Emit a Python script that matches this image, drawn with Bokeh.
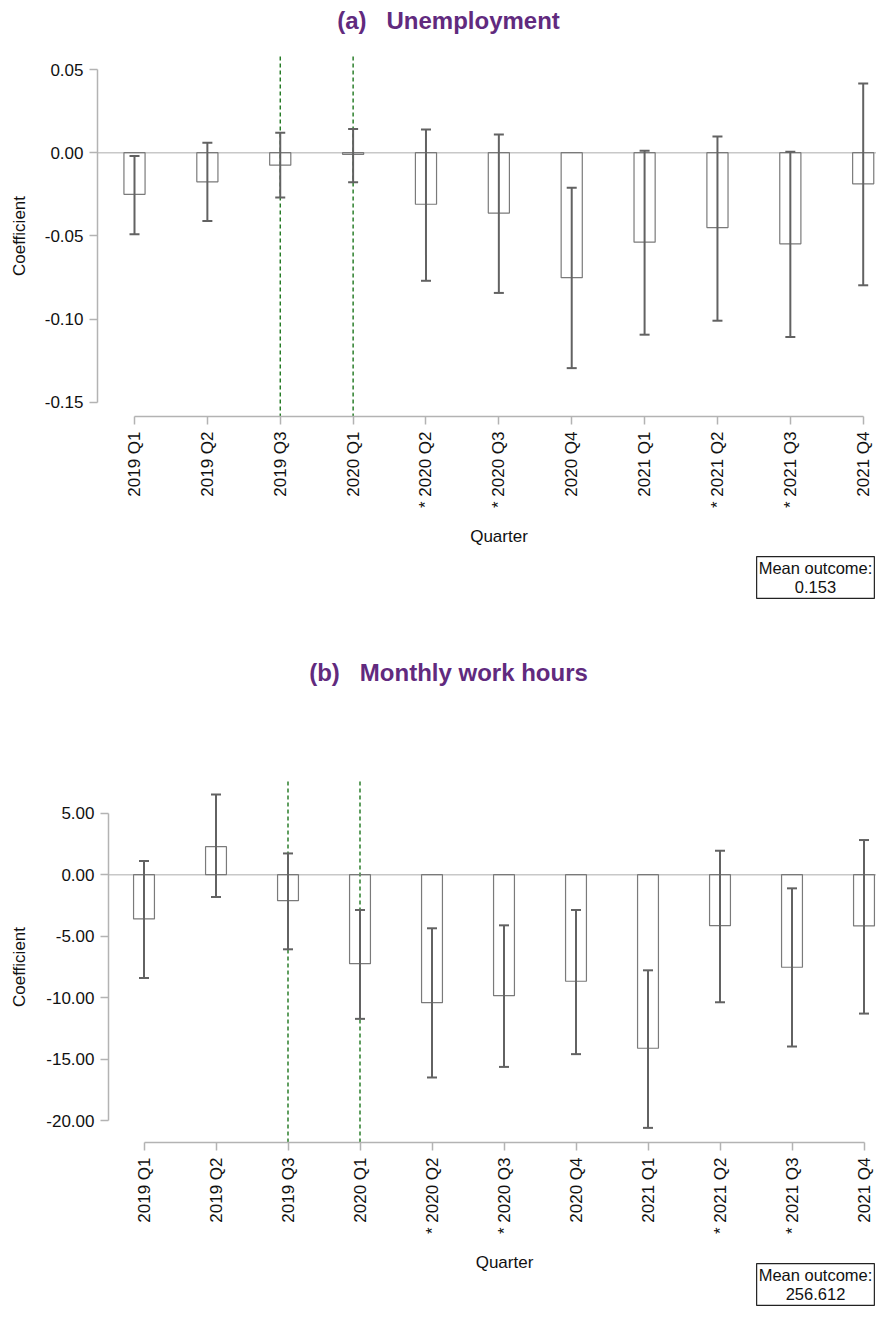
import math
from bokeh.plotting import figure
from bokeh.models import (ColumnDataSource, Range1d, FixedTicker, Whisker,
                          TeeHead, Label)
from bokeh.layouts import column
from bokeh.embed import file_html
from bokeh.resources import INLINE

# ---------------- data ----------------
quarters = ["2019 Q1", "2019 Q2", "2019 Q3", "2020 Q1", "2020 Q2", "2020 Q3",
            "2020 Q4", "2021 Q1", "2021 Q2", "2021 Q3", "2021 Q4"]
significant = [False, False, False, False, True, True, False, False, True, True, False]
policy_quarters = ["2019 Q3", "2020 Q1"]

unemp_coef = [-0.025, -0.0175, -0.0075, -0.001, -0.031, -0.0363, -0.0751,
              -0.0538, -0.045, -0.0548, -0.0187]
unemp_lo = [-0.049, -0.041, -0.027, -0.0177, -0.077, -0.0843, -0.1295,
            -0.1094, -0.101, -0.1108, -0.0797]
unemp_hi = [-0.002, 0.006, 0.012, 0.0143, 0.014, 0.011, -0.021,
            0.0012, 0.0098, 0.0006, 0.0416]
unemp_yticks = [-0.15, -0.10, -0.05, 0.0, 0.05]
unemp_ytick_labels = ["-0.15", "-0.10", "-0.05", "0.00", "0.05"]
unemp_mean = "0.153"

hours_coef = [-3.6, 2.28, -2.11, -7.24, -10.41, -9.84, -8.67, -14.12,
              -4.15, -7.53, -4.17]
hours_lo = [-8.40, -1.82, -6.07, -11.73, -16.5, -15.64, -14.6, -20.6,
            -10.38, -13.98, -11.3]
hours_hi = [1.11, 6.53, 1.73, -2.87, -4.36, -4.12, -2.87, -7.78,
            1.95, -1.11, 2.82]
hours_yticks = [-20, -15, -10, -5, 0, 5]
hours_ytick_labels = ["-20.00", "-15.00", "-10.00", "-5.00", "0.00", "5.00"]
hours_mean = "256.612"

tick_labels = [("* " if s else "") + q for q, s in zip(quarters, significant)]

# ---------------- style ----------------
FONT = "Liberation Sans"
TITLE_COLOR = "#612A7E"
AXIS_COLOR = "#b3b3b3"
BAR_LINE = "#7a7a7a"
CI_COLOR = "#626262"
ZERO_COLOR = "#c8c8c8"
VLINE_COLOR = "#0b6b0b"
W = 876
GAP = " \u00a0 "   # three-space gap that survives SVG whitespace collapsing


def make_panel(title, coef, lo, hi, yticks, ylabels, mean_text, g):
    # g holds the page-pixel calibration of this panel
    def dx(px):
        return (px - g["x0"]) / g["dx"]

    def dy(py):
        return (g["y0"] - py) / g["sy"]

    H = g["fig_bottom"] - g["fig_top"]
    p = figure(width=W, height=H, output_backend="svg", toolbar_location=None,
               x_range=Range1d(dx(0), dx(W)),
               y_range=Range1d(dy(g["fig_bottom"]), dy(g["fig_top"])),
               min_border=0, min_border_left=0, min_border_right=0,
               min_border_top=0, min_border_bottom=0)
    p.outline_line_color = None
    p.xgrid.visible = False
    p.ygrid.visible = False
    p.background_fill_color = "white"
    p.border_fill_color = "white"

    xs = list(range(len(quarters)))
    src = ColumnDataSource(dict(x=xs, coef=coef, lo=lo, hi=hi))

    x_axis_pos = dy(g["bottom"])
    y_axis_pos = dx(g["left"])

    # zero reference line (from y axis to the right edge)
    p.segment(x0=[y_axis_pos], y0=[0], x1=[dx(W)], y1=[0],
              line_color=ZERO_COLOR, line_width=1.5)
    # policy markers
    vx = [quarters.index(q) for q in policy_quarters]
    p.segment(x0=vx, y0=[dy(g["top"])] * len(vx), x1=vx,
              y1=[x_axis_pos] * len(vx),
              line_color=VLINE_COLOR, line_width=1.3, line_dash="4 3")

    p.vbar(x="x", top="coef", bottom=0, width=0.29, source=src,
           fill_color=None, line_color=BAR_LINE, line_width=1.2)

    wk = Whisker(source=src, base="x", upper="hi", lower="lo",
                 line_color=CI_COLOR, line_width=2, level="overlay",
                 upper_head=TeeHead(size=10, line_color=CI_COLOR, line_width=2),
                 lower_head=TeeHead(size=10, line_color=CI_COLOR, line_width=2))
    p.add_layout(wk)

    # axes
    xa = p.xaxis[0]
    xa.fixed_location = x_axis_pos
    xa.ticker = FixedTicker(ticks=xs, minor_ticks=[])
    xa.major_label_overrides = {i: t for i, t in enumerate(tick_labels)}
    xa.major_label_orientation = math.pi / 2
    xa.bounds = (0, len(quarters) - 1)
    xa.axis_label = "Quarter"
    xa.axis_label_standoff = 16
    xa.major_label_standoff = 7

    ya = p.yaxis[0]
    ya.fixed_location = y_axis_pos
    ya.ticker = FixedTicker(ticks=yticks, minor_ticks=[])
    ya.major_label_overrides = {t: l for t, l in zip(yticks, ylabels)}
    ya.bounds = (min(yticks), max(yticks))
    ya.axis_label = "Coefficient"
    ya.axis_label_standoff = g["ylab_standoff"]
    ya.major_label_standoff = 6

    for ax in (xa, ya):
        ax.axis_line_color = AXIS_COLOR
        ax.axis_line_width = 1.5
        ax.major_tick_line_color = AXIS_COLOR
        ax.major_tick_line_width = 1.5
        ax.major_tick_out = 8
        ax.major_tick_in = 0
        ax.minor_tick_line_color = None
        ax.major_label_text_font = FONT
        ax.major_label_text_font_size = "17px"
        ax.major_label_text_color = "#111111"
        ax.axis_label_text_font = FONT
        ax.axis_label_text_font_size = "17px"
        ax.axis_label_text_font_style = "normal"
        ax.axis_label_text_color = "#111111"

    # title
    p.add_layout(Label(x=dx(g["title_x"]), y=dy(g["title_y"]), text=title,
                       text_align="center", text_baseline="middle",
                       text_font=FONT, text_font_size="24px",
                       text_font_style="bold", text_color=TITLE_COLOR))
    # mean outcome box
    p.add_layout(Label(x=dx(g["box_x"]), y=dy(g["box_y"]),
                       text="Mean outcome:\n" + mean_text,
                       text_align="center", text_baseline="middle",
                       text_font=FONT, text_font_size="16.5px",
                       text_color="#111111", text_line_height=1.1,
                       border_line_color="#222222", border_line_width=1.2,
                       background_fill_color="white", padding=2))
    return p


geo_a = dict(x0=134.0, dx=72.87, y0=152.2, sy=1663.5,
             left=97, top=56, bottom=416,
             fig_top=0, fig_bottom=640, ylab_standoff=13,
             title_x=448, title_y=20, box_x=815, box_y=577)
geo_b = dict(x0=143.5, dx=72.0, y0=874.2, sy=12.29,
             left=108, top=781, bottom=1142,
             fig_top=640, fig_bottom=1307, ylab_standoff=14,
             title_x=448, title_y=672, box_x=815, box_y=1284)

p1 = make_panel("(a)" + GAP + "Unemployment", unemp_coef, unemp_lo, unemp_hi,
                unemp_yticks, unemp_ytick_labels, unemp_mean, geo_a)
p2 = make_panel("(b)" + GAP + "Monthly work hours", hours_coef, hours_lo,
                hours_hi, hours_yticks, hours_ytick_labels, hours_mean, geo_b)

layout = column(p1, p2, spacing=0)
open("out.html", "w").write(file_html(layout, INLINE))
